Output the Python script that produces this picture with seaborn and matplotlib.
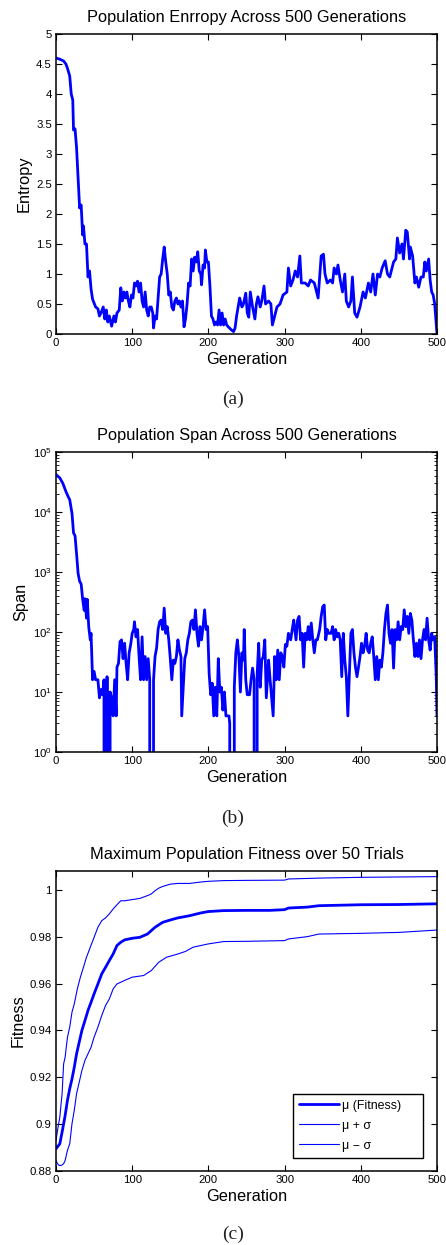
import matplotlib
matplotlib.use("Agg")
import numpy as np
import pandas as pd
import seaborn as sns
import matplotlib.pyplot as plt
from matplotlib.ticker import MultipleLocator, FormatStrFormatter
from matplotlib.lines import Line2D

# ---------------- data ----------------
entropy_gen = [0, 5, 10, 13, 15, 18, 20, 22, 23, 25,
               27, 29, 31, 33, 35, 36, 38, 40, 42, 44,
               46, 48, 52, 55, 57, 59, 62, 64, 66, 68,
               70, 73, 76, 78, 80, 83, 85, 87, 89, 91,
               93, 95, 97, 99, 101, 103, 105, 107, 109, 111,
               113, 115, 117, 119, 121, 123, 125, 127, 128, 130,
               132, 134, 136, 138, 140, 142, 144, 146, 148, 150,
               152, 154, 156, 158, 160, 162, 164, 166, 168, 170,
               172, 174, 176, 178, 180, 182, 184, 186, 188, 190,
               191, 193, 195, 196, 198, 200, 202, 204, 206, 208,
               210, 212, 214, 216, 218, 220, 222, 224, 226, 230,
               232, 233, 235, 237, 239, 241, 244, 246, 249, 251,
               253, 255, 258, 261, 263, 265, 268, 270, 273, 275,
               279, 282, 284, 287, 290, 294, 298, 303, 305, 308,
               311, 314, 317, 320, 322, 327, 331, 334, 339, 344,
               348, 351, 353, 356, 360, 363, 365, 368, 370, 373,
               376, 379, 381, 384, 387, 389, 392, 395, 399, 403,
               406, 410, 413, 416, 419, 422, 425, 428, 432, 435,
               438, 443, 446, 448, 451, 454, 456, 459, 461, 464,
               465, 468, 471, 473, 476, 479, 482, 484, 486, 489,
               491, 493, 495, 497, 500]
entropy_val = [4.6, 4.58, 4.55, 4.5, 4.43, 4.3, 4.0, 3.9, 3.4, 3.42,
               3.1, 2.6, 2.1, 2.15, 1.65, 1.8, 1.5, 1.5, 0.95, 1.05,
               0.75, 0.58, 0.45, 0.42, 0.3, 0.35, 0.45, 0.25, 0.4, 0.2,
               0.3, 0.13, 0.3, 0.2, 0.35, 0.4, 0.77, 0.55, 0.7, 0.6,
               0.7, 0.55, 0.45, 0.65, 0.6, 0.85, 0.8, 0.88, 0.7, 0.85,
               0.55, 0.45, 0.7, 0.4, 0.3, 0.45, 0.45, 0.35, 0.1, 0.3,
               0.25, 0.6, 0.95, 1.0, 1.25, 1.45, 1.2, 1.0, 0.65, 0.7,
               0.45, 0.4, 0.55, 0.6, 0.5, 0.55, 0.45, 0.55, 0.12, 0.25,
               0.5, 0.85, 0.8, 1.25, 1.05, 1.28, 1.2, 1.37, 1.05, 1.0,
               0.82, 1.15, 1.1, 1.4, 1.2, 1.2, 0.8, 0.3, 0.25, 0.15,
               0.2, 0.15, 0.4, 0.15, 0.35, 0.15, 0.25, 0.15, 0.12, 0.07,
               0.05, 0.04, 0.1, 0.3, 0.45, 0.6, 0.45, 0.5, 0.68, 0.35,
               0.28, 0.7, 0.45, 0.25, 0.5, 0.62, 0.45, 0.55, 0.8, 0.5,
               0.55, 0.5, 0.15, 0.3, 0.45, 0.5, 0.65, 0.7, 1.1, 0.8,
               0.9, 1.05, 0.95, 1.3, 0.85, 0.85, 0.8, 0.9, 0.85, 0.6,
               1.3, 1.33, 1.0, 0.85, 0.9, 0.85, 1.1, 1.0, 1.15, 0.9,
               0.7, 1.0, 0.55, 0.45, 0.55, 0.95, 0.35, 0.28, 0.45, 0.7,
               0.6, 0.85, 0.7, 1.0, 0.65, 1.0, 0.95, 1.1, 1.22, 1.0,
               0.95, 1.2, 1.25, 1.6, 1.35, 1.5, 1.25, 1.73, 1.7, 1.25,
               1.45, 1.3, 0.85, 0.95, 0.78, 0.95, 0.95, 1.2, 1.05, 1.25,
               0.9, 0.7, 0.65, 0.5, 0.0]

span_gen = [0, 5, 9, 13, 16, 18, 21, 23, 25, 27,
            29, 31, 33, 35, 37, 38, 40, 41, 43, 45,
            46, 48, 50, 52, 55, 57, 59, 61, 63, 65,
            67, 69, 71, 73, 75, 77, 79, 80, 82, 84,
            86, 88, 90, 92, 94, 96, 98, 100, 102, 103,
            105, 107, 109, 111, 113, 115, 117, 119, 121, 123,
            126, 128, 130, 132, 134, 136, 138, 140, 142, 144,
            146, 148, 150, 152, 154, 156, 158, 160, 162, 164,
            165, 167, 169, 171, 173, 175, 177, 179, 181, 183,
            185, 187, 189, 191, 193, 195, 197, 199, 201, 203,
            205, 207, 209, 211, 213, 215, 217, 219, 221, 223,
            225, 227, 228, 229, 232, 234, 236, 238, 240, 242,
            244, 246, 247, 249, 251, 254, 256, 258, 260, 262,
            264, 266, 268, 270, 272, 274, 276, 279, 281, 283,
            285, 287, 289, 291, 293, 295, 297, 299, 301, 303,
            305, 308, 310, 312, 315, 317, 319, 321, 323, 325,
            327, 329, 331, 333, 335, 337, 339, 341, 343, 346,
            348, 350, 352, 354, 356, 358, 361, 363, 365, 367,
            369, 371, 373, 375, 377, 379, 381, 383, 385, 387,
            389, 391, 393, 395, 397, 399, 401, 403, 405, 407,
            409, 411, 413, 415, 417, 419, 421, 423, 425, 427,
            429, 431, 433, 435, 437, 439, 441, 443, 445, 447,
            449, 451, 453, 455, 457, 459, 461, 463, 465, 467,
            469, 471, 473, 475, 477, 479, 481, 483, 485, 487,
            489, 491, 493, 495, 497, 499, 500]
span_val = [42000, 37000, 30000, 22000, 18000, 16000, 9500, 4500, 4000, 2000,
            950, 700, 630, 350, 230, 360, 170, 350, 120, 74,
            95, 16, 22, 16, 16, 8, 11, 9, 16, 0,
            18, 0, 10, 8, 4, 16, 4, 26, 30, 69,
            74, 36, 65, 30, 16, 45, 62, 95, 110, 148,
            83, 110, 39, 16, 83, 16, 39, 16, 36, 16,
            0, 16, 39, 54, 110, 148, 158, 110, 250, 95,
            123, 74, 36, 16, 34, 30, 39, 74, 50, 39,
            4, 12, 36, 45, 74, 95, 148, 158, 110, 234,
            95, 58, 123, 74, 123, 234, 110, 123, 20, 9,
            14, 4, 12, 4, 36, 10, 12, 5, 10, 4,
            4, 4, 3, 0, 0, 12, 45, 74, 39, 10,
            45, 34, 110, 16, 9, 9, 16, 25, 16, 0,
            20, 65, 12, 34, 39, 74, 8, 34, 16, 8,
            4, 39, 16, 50, 16, 45, 39, 26, 62, 58,
            95, 74, 110, 158, 74, 158, 182, 74, 95, 26,
            95, 74, 123, 74, 141, 74, 45, 74, 74, 110,
            182, 263, 282, 74, 110, 95, 95, 123, 74, 110,
            83, 95, 74, 18, 95, 34, 18, 4, 20, 95,
            110, 45, 26, 18, 26, 39, 65, 45, 58, 95,
            50, 45, 65, 83, 39, 16, 39, 16, 34, 26,
            45, 110, 204, 282, 95, 65, 110, 25, 110, 74,
            148, 74, 123, 110, 234, 123, 182, 95, 204, 158,
            74, 39, 65, 39, 74, 36, 74, 110, 74, 170,
            74, 50, 95, 74, 83, 18, 4]

mean_gen = [0, 5, 8, 12, 15, 18, 21, 24, 27, 30,
            34, 38, 42, 46, 50, 55, 60, 65, 70, 75,
            80, 85, 90, 100, 110, 120, 130, 140, 150, 160,
            175, 190, 200, 220, 250, 280, 300, 305, 330, 345,
            400, 450, 500]
mean_val = [0.8895, 0.8916, 0.8966, 0.9037, 0.9101, 0.9151, 0.9193, 0.9243, 0.93, 0.9343,
            0.94, 0.9442, 0.9485, 0.952, 0.9556, 0.9598, 0.9641, 0.9669, 0.9698, 0.9726,
            0.9762, 0.9776, 0.9786, 0.9793, 0.9797, 0.9811, 0.984, 0.9861, 0.9871, 0.988,
            0.9889, 0.9901, 0.9907, 0.9911, 0.9912, 0.9912, 0.9915, 0.9922, 0.9926, 0.9932,
            0.9936, 0.9937, 0.994]

upper_gen = [0, 2, 5, 8, 10, 12, 15, 18, 21, 24,
             28, 32, 36, 40, 45, 50, 55, 60, 65, 70,
             75, 80, 85, 90, 100, 110, 120, 125, 130, 135,
             140, 150, 160, 175, 190, 200, 220, 250, 300, 305,
             350, 400, 500]
upper_val = [0.8931, 0.8973, 0.903, 0.913, 0.9257, 0.9286, 0.937, 0.9414, 0.9478, 0.9513,
             0.9577, 0.9627, 0.9669, 0.9712, 0.9755, 0.9797, 0.984, 0.9868, 0.988, 0.9897,
             0.9918, 0.9936, 0.9953, 0.9953, 0.9958, 0.9963, 0.9975, 0.9982, 0.9996, 1.0007,
             1.0014, 1.0024, 1.0027, 1.0027, 1.0033, 1.0036, 1.0039, 1.004, 1.0041, 1.0046,
             1.005, 1.0053, 1.0056]

lower_gen = [0, 2, 4, 7, 10, 12, 15, 18, 21, 24,
             27, 30, 34, 38, 42, 46, 50, 55, 60, 65,
             70, 75, 80, 90, 100, 115, 125, 135, 145, 160,
             170, 180, 200, 220, 250, 300, 305, 330, 345, 400,
             450, 500]
lower_val = [0.8845, 0.8831, 0.8824, 0.8824, 0.8831, 0.8845, 0.8888, 0.8916, 0.9002, 0.9059,
             0.913, 0.9172, 0.9229, 0.9272, 0.93, 0.9328, 0.9371, 0.9414, 0.9463, 0.9506,
             0.9534, 0.9577, 0.9598, 0.9613, 0.9627, 0.9634, 0.9655, 0.9691, 0.9712, 0.9726,
             0.9737, 0.9755, 0.9769, 0.9779, 0.978, 0.9783, 0.979, 0.98, 0.9811, 0.9814,
             0.9818, 0.9828]

titles = ["Population Enrropy Across 500 Generations",
          "Population Span Across 500 Generations",
          "Maximum Population Fitness over 50 Trials"]
ylabels = ["Entropy", "Span", "Fitness"]
captions = ["(a)", "(b)", "(c)"]
legend_labels = ["\u03bc (Fitness)", "\u03bc + \u03c3", "\u03bc \u2212 \u03c3"]

assert len(entropy_gen) == len(entropy_val)
assert len(span_gen) == len(span_val)
assert len(mean_gen) == len(mean_val)
assert len(upper_gen) == len(upper_val)
assert len(lower_gen) == len(lower_val)

# ---------------- style ----------------
sns.set_theme(style="white")
plt.rcParams["font.family"] = ["Liberation Sans", "DejaVu Sans"]
plt.rcParams.update({
    "text.color": "black",
    "axes.labelcolor": "black",
    "xtick.color": "black",
    "ytick.color": "black",
    "axes.edgecolor": "black",
    "mathtext.fontset": "custom",
    "mathtext.rm": "Liberation Sans",
    "mathtext.it": "Liberation Sans:italic",
    "mathtext.bf": "Liberation Sans:bold",
})

BLUE = (0.0, 0.0, 1.0)
W, H = 446, 1245
fig = plt.figure(figsize=(W / 100, H / 100), dpi=100)
fig.patch.set_facecolor("white")


def make_axes(top_px, bottom_px):
    return fig.add_axes([56 / W, 1 - bottom_px / H, 381 / W, (bottom_px - top_px) / H])


def style(ax, title, ylabel):
    ax.set_facecolor("white")
    for s in ax.spines.values():
        s.set_visible(True)
        s.set_color("black")
        s.set_linewidth(1.1)
    ax.tick_params(which="both", direction="in", top=True, right=True,
                   bottom=True, left=True, labelsize=8.2, pad=3, colors="black")
    ax.tick_params(which="major", length=4, width=0.8)
    ax.tick_params(which="minor", length=2, width=0.6)
    ax.set_title(title, fontsize=11.8, pad=8.5)
    ax.set_xlabel("Generation", fontsize=11.8, labelpad=2.5)
    ax.set_ylabel(ylabel, fontsize=11.8, labelpad=3)
    ax.set_xlim(0, 500)
    ax.xaxis.set_major_locator(MultipleLocator(100))


# (a) entropy
ax1 = make_axes(34, 334)
df_e = pd.DataFrame({"gen": entropy_gen, "entropy": entropy_val})
sns.lineplot(data=df_e, x="gen", y="entropy", ax=ax1, color=BLUE, linewidth=2.0, sort=False)
ax1.set_ylim(0, 5)
ax1.yaxis.set_major_locator(MultipleLocator(0.5))
ax1.yaxis.set_major_formatter(FormatStrFormatter("%g"))
style(ax1, titles[0], ylabels[0])

# (b) span (log scale)
ax2 = make_axes(452, 752)
df_s = pd.DataFrame({"gen": span_gen, "span": span_val})
sns.lineplot(data=df_s, x="gen", y="span", ax=ax2, color=BLUE, linewidth=2.0, sort=False)
ax2.set_yscale("log")
ax2.set_ylim(1, 1e5)
style(ax2, titles[1], ylabels[1])

# (c) fitness
ax3 = make_axes(871, 1171)
df_m = pd.DataFrame({"gen": mean_gen, "fit": mean_val})
df_u = pd.DataFrame({"gen": upper_gen, "fit": upper_val})
df_l = pd.DataFrame({"gen": lower_gen, "fit": lower_val})
sns.lineplot(data=df_m, x="gen", y="fit", ax=ax3, color=BLUE, linewidth=2.0, sort=False)
sns.lineplot(data=df_u, x="gen", y="fit", ax=ax3, color=BLUE, linewidth=0.8, sort=False)
sns.lineplot(data=df_l, x="gen", y="fit", ax=ax3, color=BLUE, linewidth=0.8, sort=False)
ax3.set_ylim(0.88, 1.008)
ax3.yaxis.set_major_locator(MultipleLocator(0.02))
ax3.yaxis.set_major_formatter(FormatStrFormatter("%g"))
style(ax3, titles[2], ylabels[2])
handles = [Line2D([], [], color=BLUE, linewidth=2.0),
           Line2D([], [], color=BLUE, linewidth=0.8),
           Line2D([], [], color=BLUE, linewidth=0.8)]
leg = ax3.legend(handles, legend_labels, loc="lower left",
                 bbox_to_anchor=(237 / 381, 13 / 300, 130 / 381, 0.2), mode="expand",
                 fontsize=8.9, frameon=True, fancybox=False, edgecolor="black",
                 framealpha=1, borderpad=0.5, labelspacing=0.65, handlelength=3.2,
                 handletextpad=0.25, borderaxespad=0)
leg.get_frame().set_linewidth(1.0)

# captions
for cap, ypx in zip(captions, [399, 818, 1234]):
    fig.text(233 / W, 1 - ypx / H, cap, ha="center", va="center",
             fontsize=14, family=["Liberation Serif", "DejaVu Serif"], color="#222222")

fig.savefig("out.png", dpi=100, facecolor="white")
